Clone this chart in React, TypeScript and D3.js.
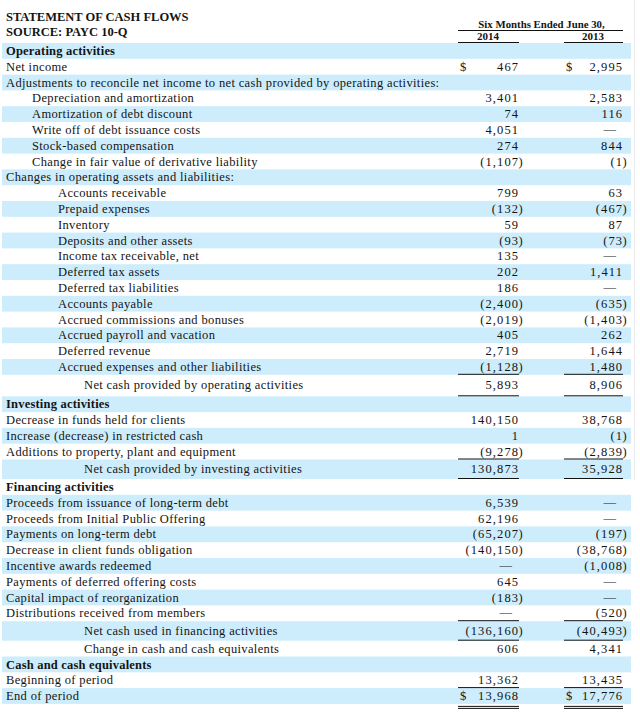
import React from "react";
import * as d3 from "d3";

const titleLines = ["STATEMENT OF CASH FLOWS", "SOURCE: PAYC 10-Q"];
const periodHeader = "Six Months Ended June 30,";
const years = ["2014", "2013"];

const labels = [
  "Operating activities",
  "Net income",
  "Adjustments to reconcile net income to net cash provided by operating activities:",
  "Depreciation and amortization",
  "Amortization of debt discount",
  "Write off of debt issuance costs",
  "Stock-based compensation",
  "Change in fair value of derivative liability",
  "Changes in operating assets and liabilities:",
  "Accounts receivable",
  "Prepaid expenses",
  "Inventory",
  "Deposits and other assets",
  "Income tax receivable, net",
  "Deferred tax assets",
  "Deferred tax liabilities",
  "Accounts payable",
  "Accrued commissions and bonuses",
  "Accrued payroll and vacation",
  "Deferred revenue",
  "Accrued expenses and other liabilities",
  "Net cash provided by operating activities",
  "Investing activities",
  "Decrease in funds held for clients",
  "Increase (decrease) in restricted cash",
  "Additions to property, plant and equipment",
  "Net cash provided by investing activities",
  "Financing activities",
  "Proceeds from issuance of long-term debt",
  "Proceeds from Initial Public Offering",
  "Payments on long-term debt",
  "Decrease in client funds obligation",
  "Incentive awards redeemed",
  "Payments of deferred offering costs",
  "Capital impact of reorganization",
  "Distributions received from members",
  "Net cash used in financing activities",
  "Change in cash and cash equivalents",
  "Cash and cash equivalents",
  "Beginning of period",
  "End of period",
];

// indent level of each row
const levels = [
  0, 0, 0, 1, 1, 1, 1, 1, 0, 2, 2, 2, 2, 2, 2, 2, 2, 2, 2, 2, 2, 3,
  0, 0, 0, 0, 3,
  0, 0, 0, 0, 0, 0, 0, 0, 0, 3, 3,
  0, 0, 0,
];

// row kinds: s = section heading, i = item, t = subtotal
const kinds = [
  "s", "i", "i", "i", "i", "i", "i", "i", "i", "i", "i", "i", "i", "i", "i", "i", "i", "i", "i", "i", "i", "t",
  "s", "i", "i", "i", "t",
  "s", "i", "i", "i", "i", "i", "i", "i", "i", "t", "i",
  "s", "i", "i",
];

// null = blank, 0 = dash
const values2014: (number | null)[] = [
  null, 467, null, 3401, 74, 4051, 274, -1107, null, 799, -132, 59, -93, 135, 202, 186, -2400, -2019, 405, 2719, -1128, 5893,
  null, 140150, 1, -9278, 130873,
  null, 6539, 62196, -65207, -140150, 0, 645, -183, 0, -136160, 606,
  null, 13362, 13968,
];
const values2013: (number | null)[] = [
  null, 2995, null, 2583, 116, 0, 844, -1, null, 63, -467, 87, -73, 0, 1411, 0, -635, -1403, 262, 1644, 1480, 8906,
  null, 38768, -1, -2839, 35928,
  null, 0, 0, -197, -38768, -1008, 0, 0, -520, -40493, 4341,
  null, 13435, 17776,
];

// rows showing a dollar sign
const dollarRows = ["Net income", "End of period"];
// rows whose values are underlined (single) and double underlined
const ruleBelowRows = [
  "Accrued expenses and other liabilities",
  "Net cash provided by operating activities",
  "Additions to property, plant and equipment",
  "Net cash provided by investing activities",
  "Distributions received from members",
  "Net cash used in financing activities",
  "Beginning of period",
];
const doubleRuleRows = ["End of period"];

const W = 640;
const H = 713;
const FONT = "'Liberation Serif', 'Times New Roman', serif";
const TEXT = "#141414";
const BAND = "#cdedfc";
const FS = 12.5;
const LS = 0.35;
const NLS = 1.1;

export default function App() {
  const tableTop = 43;
  const heights = kinds.map((k, i) =>
    k === "t" ? (i === 21 ? 21.5 : 19.5) : 15.8
  );
  const tops = [tableTop, ...Array.from(d3.cumsum(heights)).map((c) => tableTop + c)];

  const colRight = d3.scaleOrdinal<string, number>().domain(years).range([518, 622]);
  const colLeft = d3.scaleOrdinal<string, number>().domain(years).range([458, 564]);
  const indent = d3.scaleLinear().domain([0, 3]).range([6, 84]);
  const fmt = d3.format(",");

  const seriesByYear: Record<string, (number | null)[]> = {
    "2014": values2014,
    "2013": values2013,
  };

  const baseOf = (i: number) => tops[i] + (kinds[i] === "t" ? (i === 21 ? 14 : 13.5) : 12);

  const cells: React.ReactNode[] = [];
  labels.forEach((label, i) => {
    const top = tops[i];
    const h = heights[i];
    const base = baseOf(i);
    years.forEach((yr) => {
      const v = seriesByYear[yr][i];
      const r = colRight(yr);
      const l = colLeft(yr);
      if (v !== null) {
        if (v === 0) {
          cells.push(
            <text key={`d${i}${yr}`} x={r - 6} y={base - 1} textAnchor="end" fontSize={FS} fill={TEXT}>
              —
            </text>
          );
        } else if (v < 0) {
          cells.push(
            <text key={`n${i}${yr}`} x={r + NLS} y={base} textAnchor="end" fontSize={FS} letterSpacing={NLS} fill={TEXT}>
              {"(" + fmt(-v)}
            </text>,
            <text key={`p${i}${yr}`} x={r + 0.5} y={base} textAnchor="start" fontSize={FS} fill={TEXT}>
              )
            </text>
          );
        } else {
          cells.push(
            <text key={`v${i}${yr}`} x={r + NLS} y={base} textAnchor="end" fontSize={FS} letterSpacing={NLS} fill={TEXT}>
              {fmt(v)}
            </text>
          );
        }
        if (dollarRows.includes(label)) {
          cells.push(
            <text key={`s${i}${yr}`} x={l + 2} y={base} fontSize={FS} fill={TEXT}>
              $
            </text>
          );
        }
      }
      if (ruleBelowRows.includes(label)) {
        cells.push(
          <line key={`r${i}${yr}`} x1={l} x2={r + 1} y1={top + h - 0.5} y2={top + h - 0.5} stroke="#111" strokeWidth={1} />
        );
      }
      if (doubleRuleRows.includes(label)) {
        cells.push(
          <line key={`r1${i}${yr}`} x1={l} x2={r + 1} y1={top + h + 2.5} y2={top + h + 2.5} stroke="#111" strokeWidth={1} />,
          <line key={`r2${i}${yr}`} x1={l} x2={r + 1} y1={top + h + 4.5} y2={top + h + 4.5} stroke="#111" strokeWidth={1} />
        );
      }
    });
  });

  return (
    <svg
      width={W}
      height={H}
      viewBox={`0 0 ${W} ${H}`}
      style={{ position: "absolute", left: 0, top: 0, background: "#fff" }}
      fontFamily={FONT}
    >
      <rect x={0} y={0} width={W} height={H} fill="#fff" />
      <line x1={634.5} x2={634.5} y1={0} y2={480} stroke="#ececec" strokeWidth={1} />
      {titleLines.map((t, i) => (
        <text key={t} x={6} y={21 + i * 15} fontSize={12.5} fontWeight="bold" fill={TEXT}>
          {t}
        </text>
      ))}
      <text x={541.5} y={28} textAnchor="middle" fontSize={10.8} fontWeight="bold" fill={TEXT}>
        {periodHeader}
      </text>
      <line x1={458} x2={623} y1={30.5} y2={30.5} stroke="#111" />
      {years.map((yr, k) => (
        <g key={yr}>
          <text
            x={k === 0 ? 488 : 604}
            y={40}
            textAnchor={k === 0 ? "middle" : "end"}
            fontSize={11}
            fontWeight="bold"
            fill={TEXT}
          >
            {yr}
          </text>
          <line x1={colLeft(yr)} x2={colRight(yr) + 1} y1={42.5} y2={42.5} stroke="#111" />
        </g>
      ))}
      {labels.map((label, i) =>
        i % 2 === 0 ? (
          <rect key={`b${i}`} x={2} y={tops[i]} width={629} height={heights[i]} fill={BAND} />
        ) : null
      )}
      {labels.map((label, i) => (
        <text
          key={`l${i}`}
          x={indent(levels[i])}
          y={baseOf(i)}
          fontSize={FS}
          letterSpacing={kinds[i] === "s" ? 0.2 : LS}
          fontWeight={kinds[i] === "s" ? "bold" : "normal"}
          fill={TEXT}
        >
          {label}
        </text>
      ))}
      {cells}
    </svg>
  );
}
